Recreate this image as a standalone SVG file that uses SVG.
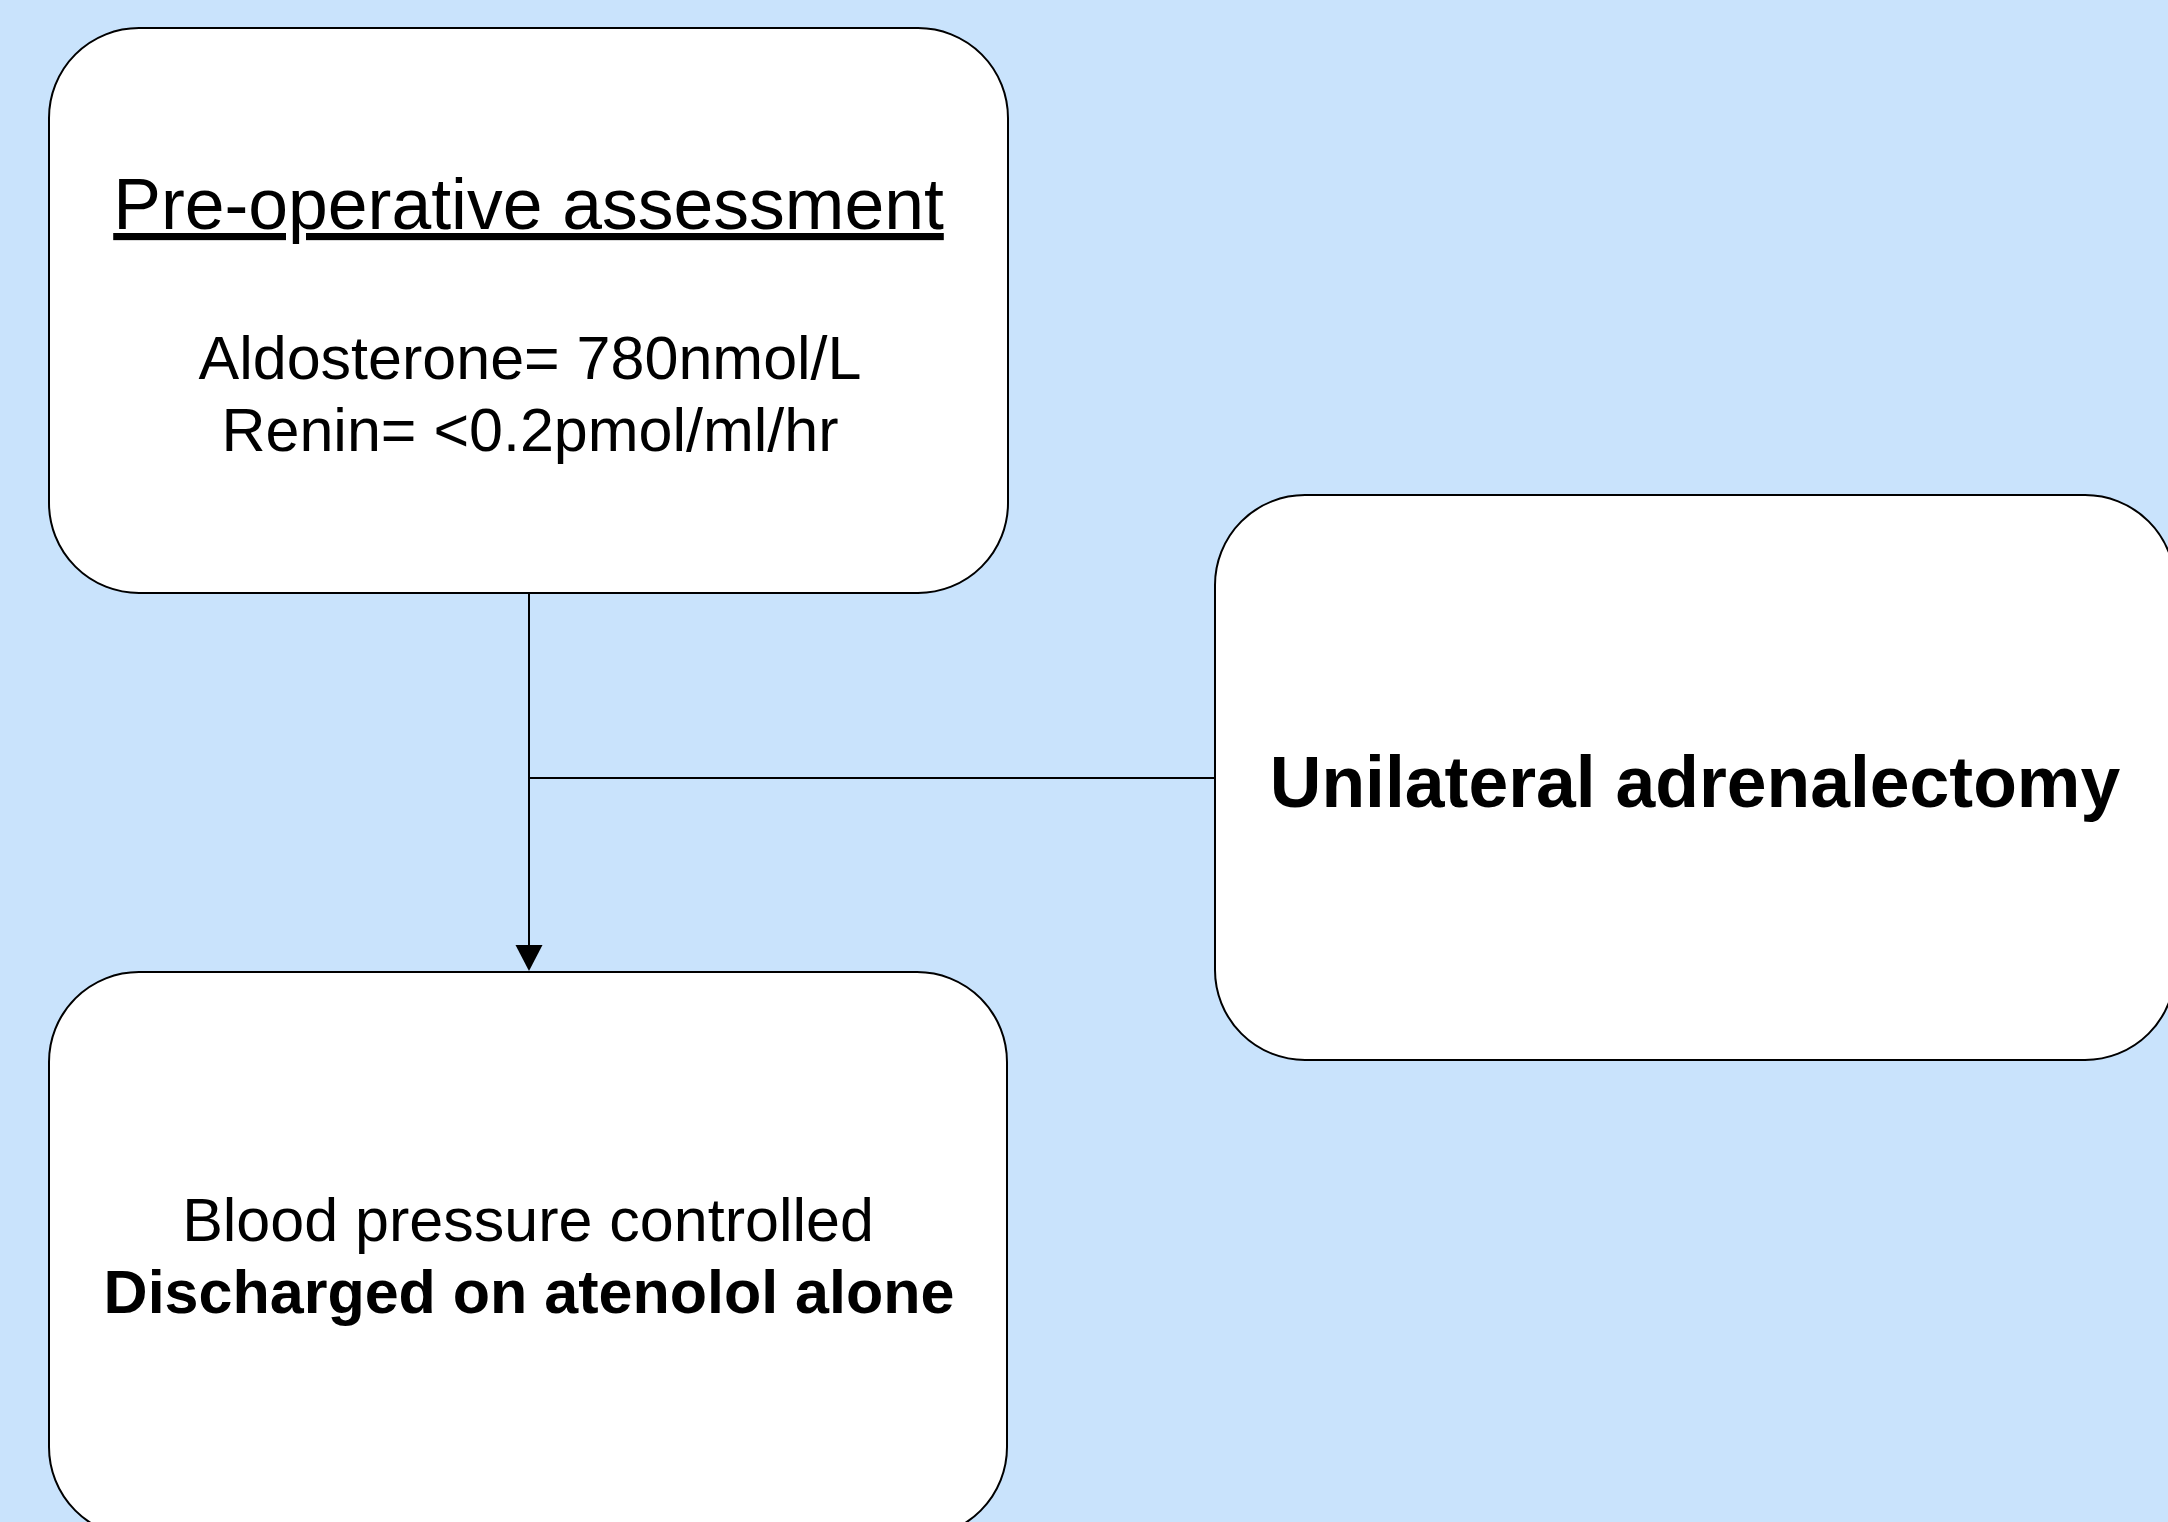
<svg xmlns="http://www.w3.org/2000/svg" width="2168" height="1522" viewBox="0 0 2168 1522">
<style>
.box{fill:#ffffff;stroke:#000000;stroke-width:2}
.conn{fill:none;stroke:#000000;stroke-width:2}
text{font-family:"Liberation Sans",Arial,sans-serif;fill:#000000;text-anchor:middle}
.n{font-size:61px}
.b{font-size:61px;font-weight:bold}
.t{font-size:71.5px}
.tb{font-size:71.5px;font-weight:bold}
</style>
<defs>
<marker id="arr" markerWidth="27" markerHeight="26" refX="13.5" refY="26" orient="auto" markerUnits="userSpaceOnUse" viewBox="0 0 27 26">
<path d="M0,0 L27,0 L13.5,26 Z" fill="#000000"/>
</marker>
</defs>
<rect x="0" y="0" width="2168" height="1522" fill="#C9E3FC"/>
<g id="connectors">
<line class="conn" x1="529" y1="593" x2="529" y2="945"/>
<polygon points="515.5,945 542.5,945 529,971" fill="#000000"/>
<line class="conn" x1="529" y1="778" x2="1215" y2="778"/>
</g>
<g id="node-preop">
<rect class="box" x="49" y="28" width="959" height="565" rx="90" ry="90"/>
<text class="t" x="528.5" y="229" text-decoration="underline">Pre-operative assessment</text>
<text class="n" x="530" y="379">Aldosterone= 780nmol/L</text>
<text class="n" x="530" y="451">Renin= &lt;0.2pmol/ml/hr</text>
</g>
<g id="node-adrenalectomy">
<rect class="box" x="1215" y="495" width="960" height="565" rx="90" ry="90"/>
<text class="tb" x="1695" y="807">Unilateral adrenalectomy</text>
</g>
<g id="node-discharge">
<rect class="box" x="49" y="972" width="958" height="565" rx="90" ry="90"/>
<text class="n" x="528" y="1241">Blood pressure controlled</text>
<text class="b" x="529" y="1313">Discharged on atenolol alone</text>
</g>
</svg>
